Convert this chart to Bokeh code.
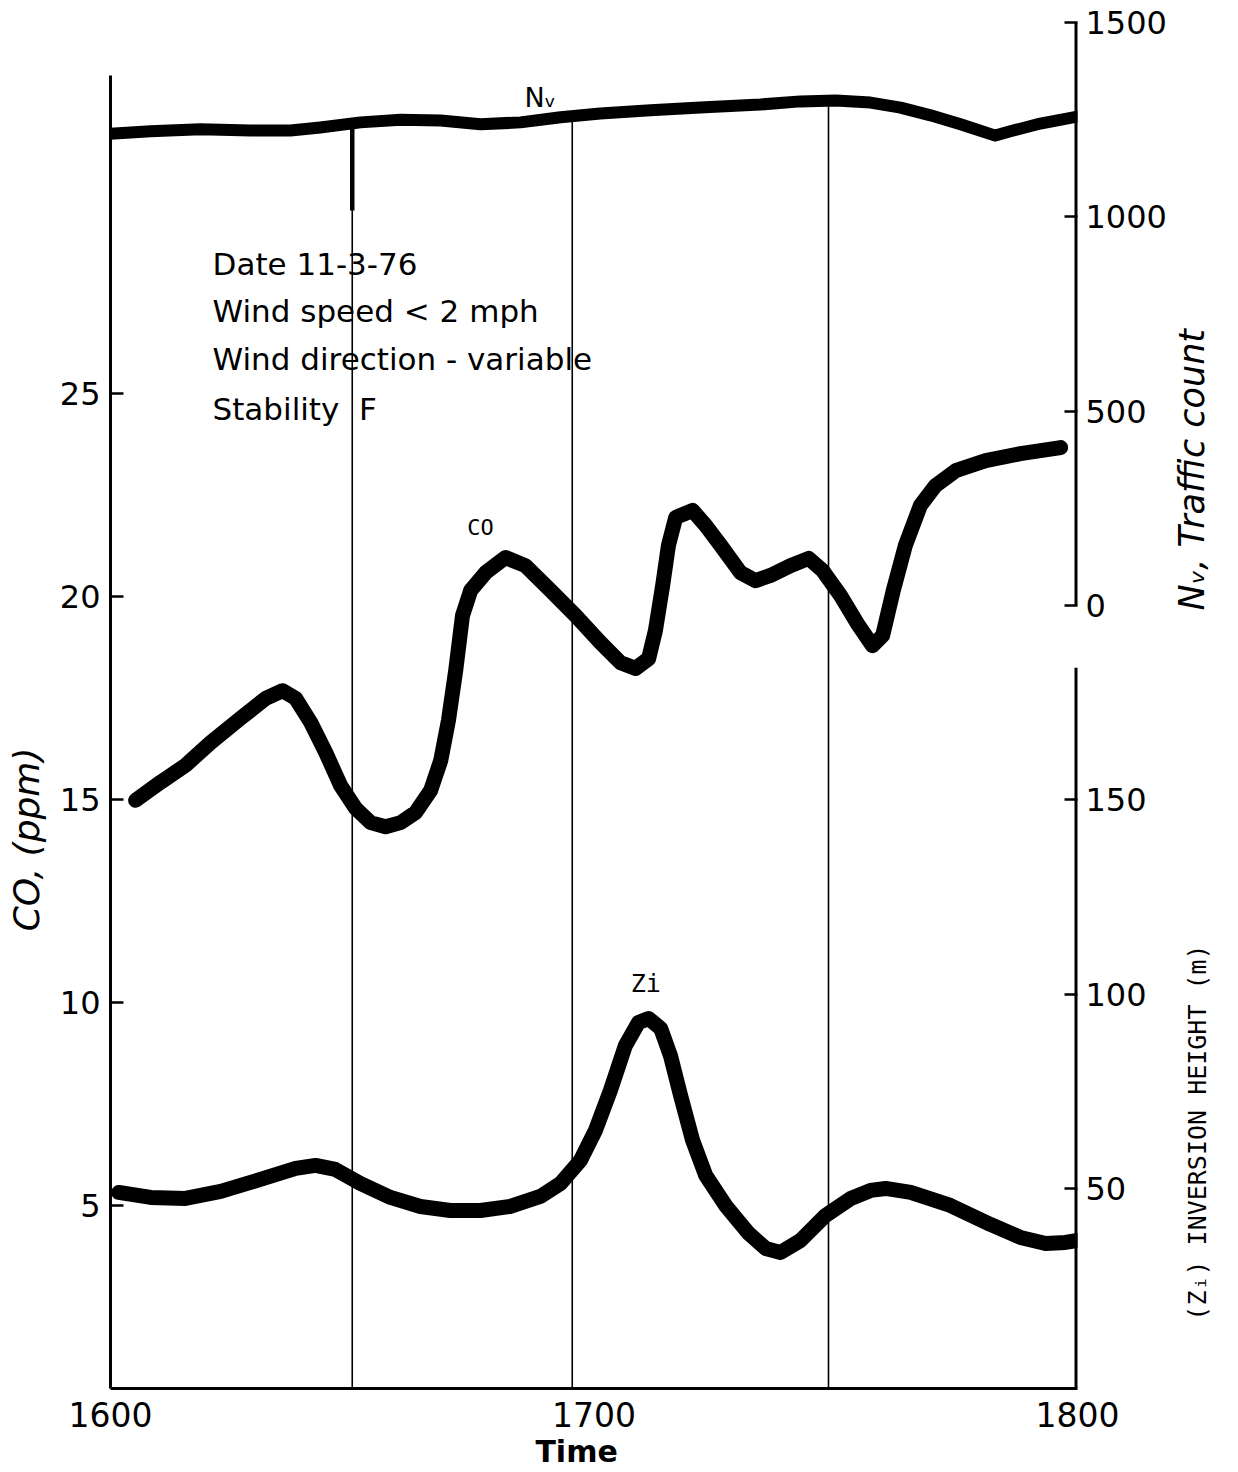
import numpy as np
from bokeh.plotting import figure
from bokeh.models import Range1d, LinearAxis, FixedTicker, Label, ColumnDataSource
from bokeh.embed import file_html
from bokeh.resources import INLINE
from bokeh.core.properties import value
from math import pi

# ---------------- data ----------------
time_nv = [1600.0, 1608.3, 1618.6, 1629.0, 1637.2, 1643.4, 1651.7, 1660.0, 1668.3, 1676.5,
           1684.8, 1693.1, 1701.3, 1711.7, 1722.0, 1734.4, 1742.7, 1750.0, 1757.2, 1763.4,
           1769.6, 1775.8, 1783.0, 1786.1, 1792.3, 1800.0]
nv_count = [1214, 1220, 1225, 1222, 1222, 1230, 1243, 1250, 1248, 1238,
            1243, 1256, 1266, 1274, 1281, 1289, 1297, 1299, 1294, 1281,
            1261, 1238, 1209, 1220, 1240, 1258]

time_co = [1605.2, 1610.3, 1615.5, 1620.7, 1626.9, 1632.1, 1635.6, 1638.3, 1641.4, 1644.5,
           1647.6, 1650.7, 1653.8, 1656.9, 1660.0, 1663.1, 1666.2, 1668.3, 1669.9, 1671.4,
           1672.8, 1674.5, 1677.6, 1681.7, 1685.8, 1691.0, 1696.2, 1701.3, 1705.5, 1708.6,
           1711.3, 1712.7, 1714.2, 1715.4, 1716.9, 1720.4, 1723.1, 1726.2, 1730.3, 1733.4,
           1736.5, 1740.6, 1744.4, 1747.3, 1751.0, 1754.7, 1757.6, 1759.7, 1761.9, 1764.4,
           1767.5, 1770.6, 1774.8, 1781.0, 1788.2, 1796.5]
co_ppm = [14.98, 15.42, 15.84, 16.40, 17.00, 17.49, 17.68, 17.49, 16.90, 16.16,
          15.34, 14.78, 14.43, 14.33, 14.43, 14.68, 15.22, 15.96, 16.95, 18.18,
          19.53, 20.15, 20.59, 20.96, 20.76, 20.15, 19.53, 18.87, 18.37, 18.23,
          18.47, 19.16, 20.27, 21.26, 21.95, 22.12, 21.75, 21.26, 20.59, 20.39,
          20.52, 20.76, 20.94, 20.64, 20.02, 19.29, 18.79, 19.04, 20.15, 21.26,
          22.24, 22.73, 23.10, 23.35, 23.52, 23.67]

time_zi = [1601.7, 1608.3, 1615.5, 1622.8, 1631.0, 1638.3, 1642.4, 1646.5, 1651.7, 1657.9,
           1664.1, 1670.3, 1676.5, 1682.7, 1688.9, 1693.1, 1697.2, 1700.3, 1703.4, 1706.5,
           1709.2, 1711.3, 1713.8, 1715.8, 1717.9, 1720.4, 1723.1, 1727.2, 1732.0, 1735.5,
           1738.6, 1742.7, 1747.9, 1753.1, 1757.2, 1760.3, 1765.5, 1773.7, 1782.0, 1788.2,
           1793.4, 1797.5, 1800.0]
zi_height = [48.98, 47.70, 47.44, 49.24, 52.33, 55.16, 55.93, 54.90, 51.30, 47.70,
             45.38, 44.35, 44.35, 45.38, 47.95, 51.30, 57.22, 64.93, 75.23, 86.80,
             92.72, 93.75, 91.18, 84.23, 73.94, 62.36, 53.36, 45.64, 38.44, 34.58,
             33.55, 36.63, 43.07, 47.44, 49.50, 50.01, 48.98, 45.64, 40.75, 37.41,
             35.86, 36.12, 36.63]

event_times = [1650.0, 1695.5, 1748.5]
event_mark_time = [1650.0]
event_mark_low_nv = [1016]

time_ticks = [1600, 1700, 1800]
co_ticks = [5, 10, 15, 20, 25]
nv_ticks = [0, 500, 1000, 1500]
zi_ticks = [50, 100, 150]

notes = ["Date 11-3-76", "Wind speed < 2 mph", "Wind direction - variable",
         "Stability\u00a0\u00a0F"]

# ---------------- layout ----------------
FONT = "DejaVu Sans"
MONO = "DejaVu Sans Mono"

co_lo, co_hi = 0.49, 34.19
nv_lo, nv_hi = -2014.6, 1505.1


# inversion height shares the right axis: nv = 10*zi - 2000
def zi_to_nv(z):
    return 10 * z - 2000


zi_lo, zi_hi = (nv_lo + 2000) / 10, (nv_hi + 2000) / 10

p = figure(width=1256, height=1472, output_backend="svg", toolbar_location=None,
           x_range=Range1d(1600, 1800), y_range=Range1d(co_lo, co_hi),
           min_border_left=128, min_border_right=161, min_border_top=20,
           min_border_bottom=84, background_fill_color="white",
           margin=(0, 0, 0, -18))
p.outline_line_color = None
p.grid.visible = False
p.extra_y_ranges = {"nv": Range1d(nv_lo, nv_hi), "zi": Range1d(zi_lo, zi_hi)}


def title_axis(axis, where, text, font, style, size, standoff, rotate=True):
    # an axis that only carries one text, placed at data position `where`
    axis.ticker = FixedTicker(ticks=[where])
    axis.major_label_overrides = {where: text}
    axis.axis_line_color = None
    axis.major_tick_line_color = None
    axis.minor_tick_line_color = None
    axis.major_tick_out = 0
    axis.major_tick_in = 0
    axis.minor_tick_out = 0
    axis.minor_tick_in = 0
    if rotate:
        axis.major_label_orientation = pi / 2
    axis.major_label_text_font = font
    axis.major_label_text_font_style = style
    axis.major_label_text_font_size = size
    axis.major_label_text_color = "black"
    axis.major_label_standoff = standoff


# left axis (CO)
ya = p.yaxis[0]
ya.ticker = FixedTicker(ticks=co_ticks)
ya.bounds = (co_lo, 32.83)
ya.axis_line_width = 3
ya.major_tick_in = 13
ya.major_tick_out = 0
ya.major_tick_line_width = 2.5
ya.minor_tick_line_color = None
ya.major_label_text_font = FONT
ya.major_label_text_font_size = "32px"
ya.major_label_standoff = 10
ya.major_label_text_color = "black"

co_title = LinearAxis()
title_axis(co_title, 16.28, "CO, (ppm)", FONT, "italic", "36px", 30)
p.add_layout(co_title, "left")

# bottom axis (time)
xa = p.xaxis[0]
xa.ticker = FixedTicker(ticks=time_ticks)
xa.axis_line_width = 3
xa.major_tick_line_color = None
xa.major_tick_out = 0
xa.minor_tick_line_color = None
xa.major_label_text_font = FONT
xa.major_label_text_font_size = "33px"
xa.major_label_standoff = 13
xa.major_label_text_color = "black"

time_title = LinearAxis()
title_axis(time_title, 1696.4, "Time", FONT, "bold", "30px", 4, rotate=False)
p.add_layout(time_title, "below")

# right axis (traffic count above, inversion height below)
overrides = {zi_to_nv(z): str(z) for z in zi_ticks}
ra = LinearAxis(y_range_name="nv",
                ticker=FixedTicker(ticks=nv_ticks + [zi_to_nv(z) for z in zi_ticks]),
                major_label_overrides=overrides)
ra.axis_line_color = None
ra.major_tick_in = 13
ra.major_tick_out = 0
ra.major_tick_line_width = 2.5
ra.minor_tick_line_color = None
ra.major_label_text_font = FONT
ra.major_label_text_font_size = "32px"
ra.major_label_standoff = 8
ra.major_label_text_color = "black"
p.add_layout(ra, "right")

nv_title = LinearAxis(y_range_name="nv")
title_axis(nv_title, -13, "N\u1d65, Traffic count", FONT, "italic", "35px", 23)
p.add_layout(nv_title, "right")

zi_title = LinearAxis(y_range_name="zi")
title_axis(zi_title, 16, "(Z\u1d62) INVERSION HEIGHT (m)", MONO, "normal", "25px", -38)
p.add_layout(zi_title, "right")

# right axis line in two pieces
p.segment(x0=[1800], y0=[0], x1=[1800], y1=[1500], y_range_name="nv",
          line_color="black", line_width=6)
p.segment(x0=[1800], y0=[zi_lo], x1=[1800], y1=[184], y_range_name="zi",
          line_color="black", line_width=6)

# vertical event lines from the bottom up to the traffic curve
ev_top = np.interp(event_times, time_nv, nv_count)
p.segment(x0=event_times, y0=[nv_lo] * len(event_times), x1=event_times, y1=ev_top,
          y_range_name="nv", line_color="black", line_width=1.6)
mk_top = np.interp(event_mark_time, time_nv, nv_count)
p.segment(x0=event_mark_time, y0=event_mark_low_nv, x1=event_mark_time, y1=mk_top,
          y_range_name="nv", line_color="black", line_width=4.5)

# curves
p.line(time_nv, nv_count, y_range_name="nv", line_color="black", line_width=12,
       line_join="round", line_cap="round")
p.line(time_co, co_ppm, line_color="black", line_width=15,
       line_join="round", line_cap="round")
p.line(time_zi, zi_height, y_range_name="zi", line_color="black", line_width=15,
       line_join="round", line_cap="round")

# notes block
note_src = ColumnDataSource(dict(x=[1621.1] * 4, y=[28.2, 27.04, 25.86, 24.63], text=notes))
p.text(x="x", y="y", text="text", source=note_src, text_font=value(FONT),
       text_font_size="31px", text_color="black", text_baseline="middle", text_align="left")

# curve labels
p.add_layout(Label(x=1688.9, y=1307, y_range_name="nv", text="N\u1d65",
                   text_font=FONT, text_font_size="27px", text_align="center",
                   text_baseline="middle", text_color="black"))
p.add_layout(Label(x=1676.5, y=21.7, text="CO", text_font=MONO, text_font_size="22px",
                   text_align="center", text_baseline="middle", text_color="black"))
p.add_layout(Label(x=1710.7, y=10.47, text="Zi", text_font=MONO, text_font_size="25px",
                   text_align="center", text_baseline="middle", text_color="black"))

open("out.html", "w").write(file_html(p, INLINE))
